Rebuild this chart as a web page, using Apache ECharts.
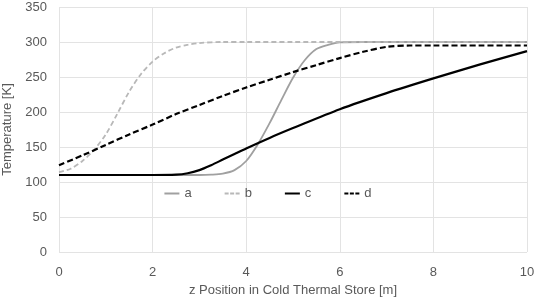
<!DOCTYPE html>
<html>
<head>
<meta charset="utf-8">
<script src="https://cdn.jsdelivr.net/npm/echarts@6/dist/echarts.min.js"></script>
<style>
  html, body { margin: 0; padding: 0; background: #fff; }
  #chart { width: 536px; height: 299px; }
</style>
</head>
<body>
<div id="chart"></div>
<script>
// z positions [m] and temperatures [K]
var aX = [0, 1, 2, 3, 3.25, 3.5, 3.75, 4, 4.25, 4.5, 4.75, 5, 5.25, 5.5, 5.75, 6, 6.5, 7, 8, 9, 10];
var aY = [110, 110, 110, 110, 110.5, 112, 117, 130, 154, 184, 217, 249, 274, 290, 296, 299.5, 300, 300, 300, 300, 300];

var bX = [0, 0.25, 0.5, 0.75, 1, 1.25, 1.5, 1.75, 2, 2.25, 2.5, 2.75, 3, 3.5, 4, 5, 6, 7, 8, 9, 10];
var bY = [114, 119, 130, 146, 168, 198, 229, 254, 272, 284, 292, 296, 298.5, 300, 300, 300, 300, 300, 300, 300, 300];

var cX = [0, 1, 2, 2.5, 2.75, 3, 3.25, 3.5, 3.75, 4, 4.5, 5, 6, 7, 8, 9, 10];
var cY = [110, 110, 110, 110.5, 112.5, 117, 124, 132, 140, 148, 163, 177, 204, 227, 248, 268, 287];

var dX = [0, 0.5, 1, 1.5, 2, 2.5, 3, 3.5, 4, 4.5, 5, 5.5, 6, 6.5, 7, 7.5, 8, 9, 10];
var dY = [124, 138, 153, 168, 182, 197, 210, 223, 235, 246, 257, 267, 277, 286, 293, 295, 295, 295, 295];

var names = ["a", "b", "c", "d"];
var xTicks = [0, 2, 4, 6, 8, 10];
var yTicks = [0, 50, 100, 150, 200, 250, 300, 350];

function pairs(xs, ys) {
  var out = [];
  for (var i = 0; i < xs.length; i++) out.push([xs[i], ys[i]]);
  return out;
}

var solidIcon = "path://M0,0h15v2h-15z";
var dashIcon = "path://M0,0h4v2h-4zM5.5,0h4v2h-4zM11,0h4v2h-4z";

var font = "Liberation Sans";
var chart = echarts.init(document.getElementById("chart"));
chart.setOption({
  animation: false,
  grid: { left: 59, right: 9, top: 7, bottom: 47, containLabel: false, outerBoundsMode: "none" },
  legend: {
    left: "center",
    top: 182,
    itemWidth: 15,
    itemHeight: 2,
    itemGap: 33,
    textStyle: { fontFamily: font, fontSize: 13, color: "#595959" },
    data: [
      { name: names[0], icon: solidIcon },
      { name: names[1], icon: dashIcon },
      { name: names[2], icon: solidIcon },
      { name: names[3], icon: dashIcon }
    ]
  },
  xAxis: {
    type: "value",
    min: xTicks[0],
    max: xTicks[xTicks.length - 1],
    interval: 2,
    name: "z Position in Cold Thermal Store [m]",
    nameLocation: "middle",
    nameGap: 31,
    nameTextStyle: { fontFamily: font, fontSize: 13, color: "#595959" },
    axisLine: { show: false },
    axisTick: { show: false },
    axisLabel: { fontFamily: font, fontSize: 13, color: "#595959", margin: 14 },
    splitLine: { show: true, lineStyle: { color: "#e3e3e3", width: 1 } }
  },
  yAxis: {
    type: "value",
    min: yTicks[0],
    max: yTicks[yTicks.length - 1],
    interval: 50,
    name: "Temperature [K]",
    nameLocation: "middle",
    nameGap: 37,
    nameTextStyle: { fontFamily: font, fontSize: 13, color: "#595959" },
    axisLine: { show: false },
    axisTick: { show: false },
    axisLabel: { fontFamily: font, fontSize: 13, color: "#595959", margin: 12 },
    splitLine: { show: true, lineStyle: { color: "#e3e3e3", width: 1 } }
  },
  series: [
    {
      name: names[0], type: "line", smooth: 0.3, symbol: "none",
      data: pairs(aX, aY),
      lineStyle: { color: "#a0a0a0", width: 1.8, type: "solid" },
      itemStyle: { color: "#a0a0a0" }
    },
    {
      name: names[1], type: "line", smooth: 0.3, symbol: "none",
      data: pairs(bX, bY),
      lineStyle: { color: "#b8b8b8", width: 1.8, type: [5, 3] },
      itemStyle: { color: "#b8b8b8" }
    },
    {
      name: names[2], type: "line", smooth: 0.3, symbol: "none",
      data: pairs(cX, cY),
      lineStyle: { color: "#000000", width: 2.2, type: "solid" },
      itemStyle: { color: "#000000" }
    },
    {
      name: names[3], type: "line", smooth: 0.3, symbol: "none",
      data: pairs(dX, dY),
      lineStyle: { color: "#000000", width: 2.2, type: [6, 3] },
      itemStyle: { color: "#000000" }
    }
  ]
});
</script>
</body>
</html>
